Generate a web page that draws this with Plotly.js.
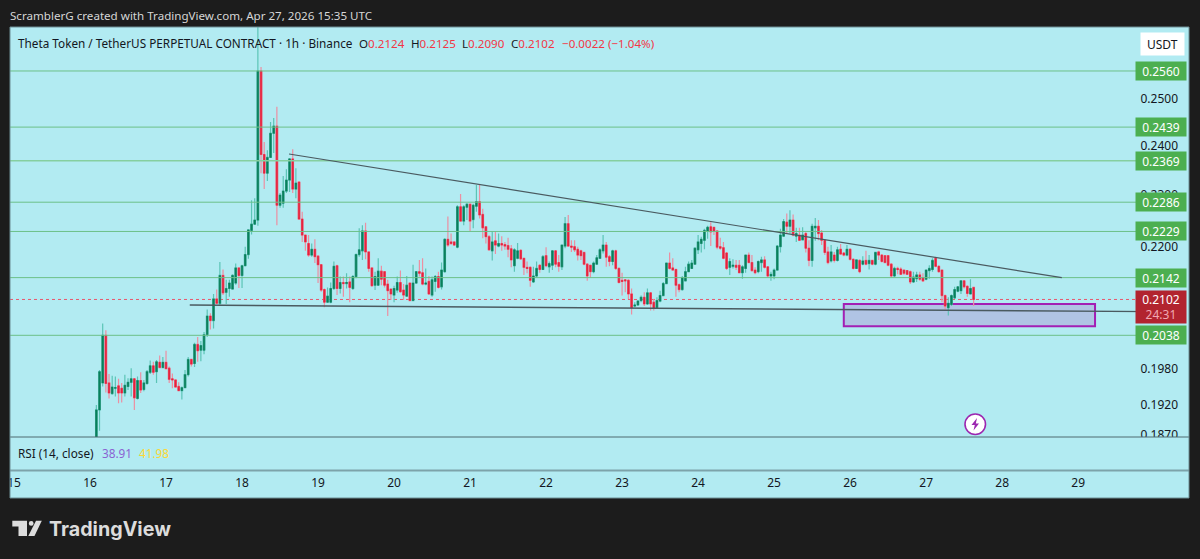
<!DOCTYPE html>
<html><head><meta charset="utf-8">
<script src="https://cdn.plot.ly/plotly-3.0.1.min.js"></script>
<style>html,body{margin:0;padding:0;background:#1c1c1c;overflow:hidden}#c{width:1200px;height:559px}</style>
</head><body><div id="c"></div>
<script>
const openP=[
.1850,.1911,.1956,.2038,.1956,.1938,.1947,.1951,.1947,.1939,
.1950,.1957,.1963,.1930,.1960,.1945,.1955,.1974,.1985,.1975,
.1991,.1982,.1991,.1981,.1963,.1961,.1950,.1943,.1948,.1970,
.1996,.1989,.2022,.2012,.2012,.2039,.2072,.2064,.2103,.2095,
.2146,.2115,.2122,.2121,.2132,.2160,.2146,.2164,.2185,.2231,
.2243,.2251,.2560,.2382,.2344,.2376,.2426,.2441,.2280,.2284,
.2308,.2330,.2373,.2312,.2326,.2253,.2222,.2206,.2184,.2195,
.2182,.2166,.2120,.2097,.2097,.2122,.2164,.2122,.2133,.2131,
.2134,.2122,.2144,.2185,.2192,.2230,.2190,.2160,.2128,.2128,
.2154,.2153,.2130,.2121,.2110,.2119,.2133,.2119,.2108,.2132,
.2100,.2132,.2153,.2151,.2130,.2135,.2110,.2135,.2144,.2125,
.2153,.2214,.2209,.2209,.2199,.2277,.2249,.2276,.2282,.2252,
.2278,.2287,.2262,.2238,.2219,.2192,.2211,.2201,.2206,.2204,
.2202,.2196,.2164,.2178,.2193,.2178,.2161,.2161,.2134,.2145,
.2165,.2157,.2183,.2162,.2165,.2192,.2170,.2162,.2201,.2244,
.2201,.2200,.2195,.2192,.2189,.2167,.2165,.2153,.2167,.2178,
.2192,.2203,.2181,.2172,.2192,.2159,.2137,.2138,.2137,.2112,
.2090,.2092,.2100,.2106,.2094,.2114,.2097,.2087,.2099,.2109,
.2131,.2169,.2160,.2157,.2129,.2120,.2136,.2153,.2159,.2167,
.2194,.2206,.2212,.2230,.2238,.2237,.2230,.2200,.2198,.2188,
.2161,.2163,.2165,.2165,.2151,.2159,.2184,.2170,.2156,.2153,
.2170,.2175,.2162,.2145,.2145,.2156,.2200,.2220,.2247,.2239,
.2251,.2220,.2222,.2213,.2225,.2197,.2174,.2236,.2239,.2226,
.2212,.2190,.2173,.2184,.2174,.2195,.2188,.2184,.2195,.2176,
.2159,.2174,.2167,.2174,.2168,.2174,.2167,.2190,.2184,.2183,
.2183,.2167,.2145,.2159,.2158,.2156,.2155,.2153,.2134,.2140,
.2147,.2142,.2139,.2155,.2157,.2178,.2163,.2156,.2109,.2087,
.2093,.2105,.2117,.2118,.2136,.2126,.2112,.2124];
const highP=[
.1919,.1978,.2059,.2047,.1971,.1968,.1967,.1963,.1956,.1970,
.1964,.1981,.1963,.1967,.1974,.1961,.1978,.1994,.1992,.1995,
.2003,.2000,.2011,.1984,.1972,.1962,.1957,.1950,.1978,.2000,
.1997,.2025,.2035,.2028,.2044,.2084,.2077,.2112,.2120,.2171,
.2157,.2138,.2138,.2148,.2168,.2160,.2166,.2200,.2233,.2290,
.2294,.2720,.2569,.2408,.2391,.2450,.2458,.2482,.2304,.2338,
.2352,.2375,.2393,.2354,.2328,.2267,.2222,.2222,.2206,.2214,
.2184,.2166,.2122,.2124,.2133,.2172,.2166,.2144,.2144,.2150,
.2144,.2147,.2187,.2235,.2241,.2246,.2190,.2161,.2153,.2178,
.2164,.2153,.2138,.2122,.2127,.2144,.2155,.2130,.2145,.2132,
.2166,.2154,.2175,.2178,.2159,.2145,.2144,.2147,.2153,.2170,
.2216,.2258,.2225,.2210,.2280,.2302,.2280,.2284,.2283,.2283,
.2320,.2320,.2273,.2239,.2222,.2229,.2229,.2225,.2220,.2209,
.2217,.2203,.2197,.2207,.2195,.2178,.2172,.2163,.2162,.2172,
.2167,.2184,.2199,.2172,.2192,.2192,.2184,.2203,.2257,.2261,
.2212,.2212,.2200,.2194,.2190,.2169,.2165,.2172,.2184,.2197,
.2222,.2209,.2184,.2194,.2194,.2161,.2151,.2139,.2139,.2122,
.2097,.2101,.2109,.2115,.2122,.2115,.2103,.2106,.2118,.2134,
.2170,.2189,.2178,.2159,.2131,.2145,.2162,.2172,.2175,.2199,
.2222,.2219,.2234,.2240,.2247,.2238,.2231,.2217,.2209,.2190,
.2178,.2176,.2175,.2175,.2165,.2185,.2189,.2184,.2161,.2174,
.2181,.2182,.2163,.2153,.2159,.2203,.2234,.2253,.2264,.2270,
.2262,.2236,.2236,.2237,.2228,.2212,.2244,.2255,.2251,.2232,
.2214,.2200,.2203,.2190,.2200,.2205,.2190,.2203,.2197,.2178,
.2176,.2176,.2182,.2192,.2184,.2175,.2190,.2192,.2186,.2184,
.2184,.2169,.2162,.2162,.2161,.2157,.2156,.2155,.2153,.2153,
.2153,.2150,.2157,.2165,.2178,.2181,.2165,.2157,.2111,.2106,
.2111,.2125,.2126,.2136,.2137,.2128,.2139,.2125];
const lowP=[
.1840,.1877,.1950,.1940,.1930,.1936,.1933,.1922,.1923,.1933,
.1944,.1933,.1911,.1928,.1939,.1942,.1953,.1971,.1970,.1956,
.1981,.1981,.1980,.1956,.1947,.1948,.1942,.1928,.1947,.1967,
.1984,.1983,.1992,.1993,.2005,.2035,.2048,.2050,.2094,.2092,
.2110,.2094,.2107,.2120,.2129,.2123,.2123,.2163,.2177,.2223,
.2242,.2240,.2344,.2312,.2328,.2375,.2385,.2241,.2275,.2275,
.2304,.2306,.2304,.2294,.2251,.2209,.2192,.2181,.2181,.2169,
.2132,.2116,.2088,.2096,.2095,.2119,.2110,.2113,.2107,.2122,
.2097,.2119,.2141,.2181,.2175,.2176,.2153,.2125,.2119,.2127,
.2128,.2124,.2072,.2101,.2097,.2114,.2114,.2101,.2107,.2099,
.2099,.2130,.2144,.2128,.2128,.2110,.2107,.2116,.2122,.2120,
.2151,.2200,.2203,.2201,.2197,.2249,.2241,.2251,.2230,.2235,
.2267,.2254,.2216,.2206,.2192,.2174,.2186,.2199,.2192,.2194,
.2180,.2161,.2153,.2176,.2175,.2147,.2150,.2125,.2132,.2142,
.2151,.2156,.2161,.2151,.2156,.2161,.2153,.2156,.2197,.2200,
.2190,.2190,.2174,.2175,.2165,.2136,.2142,.2150,.2167,.2178,
.2187,.2162,.2163,.2165,.2156,.2131,.2109,.2115,.2103,.2075,
.2088,.2090,.2097,.2090,.2092,.2082,.2082,.2086,.2097,.2109,
.2130,.2157,.2155,.2107,.2115,.2118,.2136,.2152,.2159,.2167,
.2186,.2189,.2195,.2215,.2201,.2222,.2195,.2194,.2176,.2156,
.2147,.2159,.2156,.2150,.2140,.2151,.2169,.2153,.2148,.2150,
.2153,.2159,.2142,.2136,.2139,.2155,.2189,.2219,.2226,.2225,
.2220,.2209,.2211,.2212,.2189,.2163,.2162,.2211,.2212,.2203,
.2184,.2167,.2170,.2170,.2172,.2184,.2182,.2182,.2174,.2157,
.2159,.2150,.2165,.2165,.2157,.2165,.2165,.2175,.2170,.2169,
.2163,.2142,.2143,.2148,.2147,.2147,.2147,.2130,.2132,.2134,
.2136,.2134,.2137,.2140,.2153,.2161,.2151,.2097,.2084,.2073,
.2090,.2103,.2115,.2112,.2122,.2107,.2111,.2090];
const closeP=[
.1911,.1975,.2038,.1955,.1939,.1949,.1948,.1939,.1939,.1952,
.1957,.1963,.1931,.1960,.1944,.1956,.1975,.1985,.1974,.1992,
.1982,.1991,.1980,.1962,.1961,.1949,.1943,.1948,.1970,.1996,
.1988,.2022,.2011,.2020,.2039,.2072,.2064,.2103,.2095,.2146,
.2114,.2122,.2132,.2146,.2160,.2146,.2164,.2185,.2232,.2243,
.2251,.2560,.2382,.2344,.2376,.2426,.2441,.2280,.2300,.2308,
.2330,.2373,.2312,.2324,.2253,.2222,.2209,.2184,.2195,.2181,
.2166,.2119,.2097,.2108,.2122,.2163,.2122,.2133,.2131,.2133,
.2124,.2144,.2185,.2194,.2230,.2190,.2159,.2127,.2144,.2154,
.2139,.2128,.2118,.2112,.2122,.2133,.2116,.2110,.2128,.2100,
.2132,.2153,.2150,.2130,.2132,.2112,.2138,.2144,.2124,.2156,
.2214,.2203,.2206,.2203,.2277,.2249,.2277,.2282,.2249,.2280,
.2287,.2261,.2236,.2219,.2194,.2209,.2203,.2206,.2203,.2201,
.2195,.2175,.2194,.2192,.2177,.2161,.2159,.2137,.2145,.2159,
.2157,.2181,.2164,.2168,.2192,.2167,.2163,.2203,.2244,.2201,
.2199,.2194,.2184,.2183,.2167,.2145,.2153,.2169,.2179,.2194,
.2203,.2180,.2172,.2192,.2159,.2133,.2135,.2136,.2112,.2087,
.2092,.2099,.2106,.2094,.2114,.2094,.2086,.2100,.2109,.2131,
.2169,.2159,.2156,.2128,.2120,.2142,.2153,.2167,.2169,.2197,
.2209,.2214,.2231,.2237,.2228,.2230,.2199,.2197,.2178,.2159,
.2172,.2165,.2161,.2151,.2162,.2184,.2170,.2155,.2151,.2172,
.2175,.2161,.2145,.2148,.2156,.2201,.2222,.2248,.2239,.2251,
.2222,.2225,.2212,.2222,.2197,.2174,.2239,.2239,.2225,.2212,
.2189,.2170,.2190,.2174,.2194,.2186,.2184,.2195,.2176,.2159,
.2175,.2153,.2173,.2167,.2174,.2167,.2189,.2184,.2172,.2170,
.2165,.2145,.2159,.2157,.2148,.2150,.2148,.2134,.2143,.2147,
.2139,.2136,.2156,.2159,.2174,.2163,.2153,.2109,.2090,.2095,
.2109,.2120,.2125,.2136,.2125,.2113,.2122,.2102];

const firstCandle = "2026-04-16T02:00:00Z";
const dayTicks = ["2026-04-15","2026-04-16","2026-04-17","2026-04-18","2026-04-19","2026-04-20","2026-04-21","2026-04-22","2026-04-23","2026-04-24","2026-04-25","2026-04-26","2026-04-27","2026-04-28","2026-04-29"];
const dayLabels = ["15","16","17","18","19","20","21","22","23","24","25","26","27","28","29"];
const priceTicks = [0.25,0.24,0.23,0.22,0.198,0.192,0.187];
const priceLabels = ["0.2500","0.2400","0.2300","0.2200","0.1980","0.1920","0.1870"];
const levels = [0.2560,0.2439,0.2369,0.2286,0.2229,0.2142,0.2038];
const levelLabels = ["0.2560","0.2439","0.2369","0.2286","0.2229","0.2142","0.2038"];
const lastPrice = 0.2102;
const trendTimes = ["2026-04-18 14:50","2026-04-28 18:50"];
const trendPrices = [0.2383,0.2142];
const supportTimes = ["2026-04-17 07:30","2026-04-30 00:00"];
const supportPrices = [0.2092,0.2080];
const zoneTimes = ["2026-04-25 22:00","2026-04-29 05:20"];
const zonePrices = [0.2094,0.2054];

const t0 = Date.parse(firstCandle);
const times = openP.map((_,i)=>new Date(t0+i*3600000).toISOString().slice(0,16).replace('T',' '));
const bodyHigh = openP.map((o,i)=>Math.max(o,closeP[i]));
const bodyLow = openP.map((o,i)=>Math.min(o,closeP[i]));

const L=10,R=1189,T=27,B=498;
const X=p=>(p-L)/(R-L), Y=p=>(B-p)/(B-T);
const path=(pts,close=true)=>pts.map((q,i)=>(i?'L':'M')+X(q[0]).toFixed(5)+','+Y(q[1]).toFixed(5)).join(' ')+(close?' Z':'');
const font='"Noto Sans", sans-serif';
const rect=(x0,y0,x1,y1,o)=>Object.assign({type:'rect',xref:'paper',yref:'paper',x0:X(x0),x1:X(x1),y0:Y(y0),y1:Y(y1),line:{width:0},layer:'above'},o);

const wick={type:'candlestick',x:times,open:openP,high:highP,low:lowP,close:closeP,hoverinfo:'skip',
  increasing:{line:{color:'#5cc4b6',width:1.2},fillcolor:'#5cc4b6'},
  decreasing:{line:{color:'#ec8fa2',width:1.2},fillcolor:'#ec8fa2'}};
const body={type:'candlestick',x:times,open:openP,high:bodyHigh,low:bodyLow,close:closeP,hoverinfo:'skip',
  increasing:{line:{color:'#0b7f5c',width:0.6},fillcolor:'#0b7f5c'},
  decreasing:{line:{color:'#e6243e',width:0.6},fillcolor:'#e6243e'}};

const shapes=[];
shapes.push(rect(L,437,R,B,{fillcolor:'#b2ebf2',layer:'below'}));
levels.forEach((v,i)=>shapes.push({type:'line',xref:'paper',yref:'y',x0:0,x1:X(1136),y0:v,y1:v,layer:'above',
  line:{color:i===2?'#86cfa0':'#6cc088',width:i===2?1.5:1}}));
shapes.push({type:'line',xref:'paper',yref:'y',x0:0,x1:X(1136),y0:lastPrice,y1:lastPrice,layer:'between',line:{color:'#e8566c',width:1,dash:'dot'}});
shapes.push({type:'rect',xref:'x',yref:'y',x0:zoneTimes[0],x1:zoneTimes[1],y0:zonePrices[0],y1:zonePrices[1],layer:'between',
  fillcolor:'rgba(176,196,228,1)',line:{color:'#a31fb4',width:2}});
shapes.push({type:'line',xref:'x',yref:'y',x0:trendTimes[0],x1:trendTimes[1],y0:trendPrices[0],y1:trendPrices[1],layer:'above',line:{color:'#4a5a60',width:1.2}});
shapes.push({type:'line',xref:'x',yref:'y',x0:supportTimes[0],x1:supportTimes[1],y0:supportPrices[0],y1:supportPrices[1],layer:'above',line:{color:'#4a5a60',width:1.4}});
// pane chrome
shapes.push(rect(L+1,437,R-1,446,{fillcolor:'#b2ebf2'}));
shapes.push({type:'line',xref:'paper',yref:'paper',x0:0,x1:1,y0:Y(437),y1:Y(437),layer:'above',line:{color:'#4f6a70',width:1}});
shapes.push({type:'line',xref:'paper',yref:'paper',x0:0,x1:1,y0:Y(470.5),y1:Y(470.5),layer:'above',line:{color:'#7da3aa',width:2}});
shapes.push(rect(L,T,R,B,{line:{color:'#6d8e94',width:1}}));
// usdt box
shapes.push({type:'path',xref:'paper',yref:'paper',layer:'above',fillcolor:'#ffffff',line:{color:'#ffffff',width:3,},path:path([[1142,34],[1183,34],[1183,54],[1142,54]])});
// lightning badge
shapes.push({type:'circle',xref:'paper',yref:'paper',layer:'above',x0:X(965),x1:X(985.5),y0:Y(414),y1:Y(434.5),fillcolor:'#ffffff',line:{color:'#9c27b0',width:1.6}});
shapes.push({type:'path',xref:'paper',yref:'paper',layer:'above',fillcolor:'#9c27b0',line:{width:0},path:path([[977,418],[971.5,425],[974.8,425],[973.5,430.5],[979,423.5],[975.8,423.5]])});
// TradingView mark
const logo='#dcdcdc';
shapes.push({type:'path',xref:'paper',yref:'paper',layer:'above',fillcolor:logo,line:{width:0},path:path([[12.3,520.7],[27,520.7],[27,536],[18.5,536],[18.5,526.6],[12.3,526.6]])});
shapes.push({type:'circle',xref:'paper',yref:'paper',layer:'above',fillcolor:logo,line:{width:0},x0:X(28.8),x1:X(33.6),y0:Y(521),y1:Y(525.8)});
shapes.push({type:'path',xref:'paper',yref:'paper',layer:'above',fillcolor:logo,line:{width:0},path:path([[36,520.7],[41.8,520.7],[34.5,536],[28.3,536]])});

const ann=(text,px,py,anchor,size,color,extra)=>Object.assign({xref:'paper',yref:'paper',x:X(px),y:Y(py),xanchor:anchor,yanchor:'middle',text,showarrow:false,
  font:{family:font,size,color}},extra||{});
const annotations=[
  ann('ScramblerG created with TradingView.com, Apr 27, 2026 15:35 UTC',8,15,'left',11.6,'#d6d6d6'),
  ann('Theta Token / TetherUS PERPETUAL CONTRACT · 1h · Binance',16,43,'left',11.75,'#131722'),
  ann('O<span style="color:#f23645">0.2124</span>',357,43,'left',11.6,'#131722'),
  ann('H<span style="color:#f23645">0.2125</span>',408.7,43,'left',11.6,'#131722'),
  ann('L<span style="color:#f23645">0.2090</span>',460,43,'left',11.6,'#131722'),
  ann('C<span style="color:#f23645">0.2102</span>',509,43,'left',11.6,'#131722'),
  ann('−0.0022 (−1.04%)',559.7,43,'left',11.6,'#f23645'),
  ann('RSI (14, close)',16,453,'left',11.75,'#131722'),
  ann('38.91',100,453,'left',11.75,'#8a63d2'),
  ann('41.98',137,453,'left',11.75,'#fdd835'),
  ann('USDT',1162.5,44,'center',12,'#131722'),
  ann('0.2102<br><span style="color:#f0a8b2">24:31</span>',1161,307,'center',12,'#ffffff',{width:50,height:32,bgcolor:'#b2242f',borderpad:0}),
  ann('<b>TradingView</b>',47,529,'left',19.7,'#dcdcdc',{font:{family:'Inter, "Noto Sans", sans-serif',size:19.7,color:'#dcdcdc'}})
];
levels.forEach((v,i)=>annotations.push({xref:'paper',yref:'y',x:X(1161),y:Math.log10(v),xanchor:'center',yanchor:'middle',showarrow:false,
  text:levelLabels[i],width:50,height:18,bgcolor:'#4caf50',borderpad:0,font:{family:font,size:12,color:'#ffffff'}}));

const layout={width:1200,height:559,margin:{l:L,r:1200-R,t:T,b:559-B,pad:0},paper_bgcolor:'#1c1c1c',plot_bgcolor:'#b2ebf2',showlegend:false,
  xaxis:{type:'date',range:["2026-04-14 22:44","2026-04-30 11:00"],rangeslider:{visible:false},showgrid:false,zeroline:false,showline:false,
    anchor:'free',position:0,tickmode:'array',tickvals:dayTicks,ticktext:dayLabels,ticks:'',ticklabelposition:'inside',ticklabeloverflow:'allow',ticklabelstandoff:6,
    tickfont:{family:font,size:12,color:'#131722'}},
  yaxis:{type:'log',domain:[(B-437)/(B-T),1],range:[Math.log10(0.18668),Math.log10(0.2659)],side:'right',showgrid:false,zeroline:false,showline:false,
    tickmode:'array',tickvals:priceTicks,ticktext:priceLabels,ticks:'',ticklabelposition:'inside',ticklabeloverflow:'allow',ticklabelstandoff:8,
    tickfont:{family:font,size:12,color:'#131722'}},
  shapes,annotations};
Plotly.newPlot('c',[wick,body],layout,{displayModeBar:false,staticPlot:true});
</script></body></html>
